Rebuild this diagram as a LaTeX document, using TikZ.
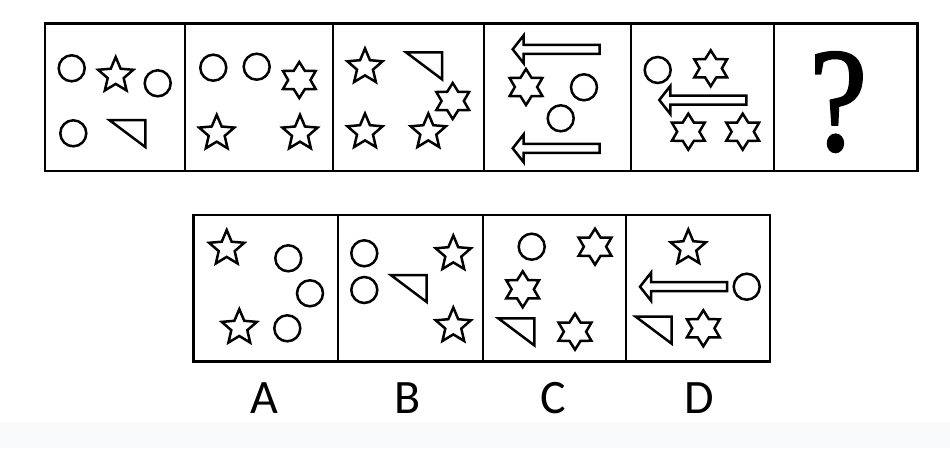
\documentclass[tikz,border=0pt]{standalone}
\usepackage{fontspec}
\newfontfamily\lblfont{Carlito}
\newfontfamily\qfont[FakeBold=1.6]{Liberation Serif}
\definecolor{bandcol}{RGB}{248,250,252}
\begin{document}
\begin{tikzpicture}[x=1pt,y=-1pt,
  shp/.style={draw=black,line width=2.5pt,line join=miter,miter limit=4},
  frame/.style={draw=black,line width=2.5pt},
  lbl/.style={anchor=base,inner sep=0pt,font=\lblfont\fontsize{48}{48}\selectfont},
  fstar/.pic={\draw[shp] (270:18.5) \foreach \a in {0,72,...,288}{ -- ({306+\a}:8.4) -- ({342+\a}:18.5)} -- cycle;},
  hexa/.pic={\draw[shp,xscale=1.05] (270:18) \foreach \a in {0,60,...,300}{ -- ({300+\a}:10.6) -- ({330+\a}:18)} -- cycle;},
  ring/.pic={\draw[shp] (0,0) circle[radius=13pt];},
  tri/.pic={\draw[shp] (0,0) -- (36,0) -- (36,27) -- cycle;},
  larrow/.pic={\draw[shp] (0,0) -- (11,-14) -- (11,-4.5) -- (87,-4.5) -- (87,4.5) -- (11,4.5) -- (11,14) -- cycle;}
]
\useasboundingbox (0,0) rectangle (950,448);
\fill[white] (0,0) rectangle (950,448);
\fill[bandcol] (0,422) rectangle (950,448);

% top row frames
\draw[frame] (45,23.3) rectangle (917.7,171);
\foreach \x in {185,333,484,631,774} \draw[frame] (\x,23.3) -- (\x,171);

% box 1
\pic at (71.7,68.3) {ring};
\pic at (115.7,75.5) {fstar};
\pic at (157.7,83.3) {ring};
\pic at (73.3,133.3) {ring};
\pic at (109.3,120) {tri};
% box 2
\pic at (213.3,67.7) {ring};
\pic at (256.7,66.7) {ring};
\pic at (299.3,80) {hexa};
\pic at (216.7,133.3) {fstar};
\pic at (300,133.3) {fstar};
% box 3
\pic at (365,67) {fstar};
\pic at (406,52.3) {tri};
\pic at (452.7,101) {hexa};
\pic at (365,132) {fstar};
\pic at (428.3,132) {fstar};
% box 4
\pic at (512.7,49.3) {larrow};
\pic at (526,87) {hexa};
\pic at (584,87.3) {ring};
\pic at (560.7,118.3) {ring};
\pic at (512.7,148.3) {larrow};
% box 5
\pic at (657.7,70) {ring};
\pic at (710.7,68.3) {hexa};
\pic at (659.3,100) {larrow};
\pic at (688.3,131.7) {hexa};
\pic at (742.7,131.7) {hexa};
% box 6
\node[anchor=base,inner sep=0pt,xscale=0.88,font=\qfont\fontsize{148}{148}\selectfont] (q) at (838.3,150) {?};

% bottom row frames
\draw[frame] (193.3,215) rectangle (770,361.7);
\foreach \x in {338,483,626} \draw[frame] (\x,215) -- (\x,361.7);

% A
\pic at (226.7,248.5) {fstar};
\pic at (288.3,258.3) {ring};
\pic at (310,293.3) {ring};
\pic at (239.3,327.6) {fstar};
\pic at (287.3,328.3) {ring};
% B
\pic at (364.3,253.3) {ring};
\pic at (364.3,290) {ring};
\pic at (390.7,275) {tri};
\pic at (453.3,254) {fstar};
\pic at (453.3,326) {fstar};
% C
\pic at (531.7,246.7) {ring};
\pic at (595,246.7) {hexa};
\pic at (522.7,289.3) {hexa};
\pic at (498.3,318.3) {tri};
\pic at (575,331.7) {hexa};
% D
\pic at (688.3,248) {fstar};
\pic at (640,286.7) {larrow};
\pic at (746.7,286.7) {ring};
\pic at (635.7,316.7) {tri};
\pic at (703.3,328.3) {hexa};

% labels
\node[lbl] (la) at (264.7,413.3) {A};
\node[lbl] (lb) at (407.5,413.3) {B};
\node[lbl] (lc) at (553,413.3) {C};
\node[lbl] (ld) at (699,413.3) {D};
\end{tikzpicture}
\end{document}
